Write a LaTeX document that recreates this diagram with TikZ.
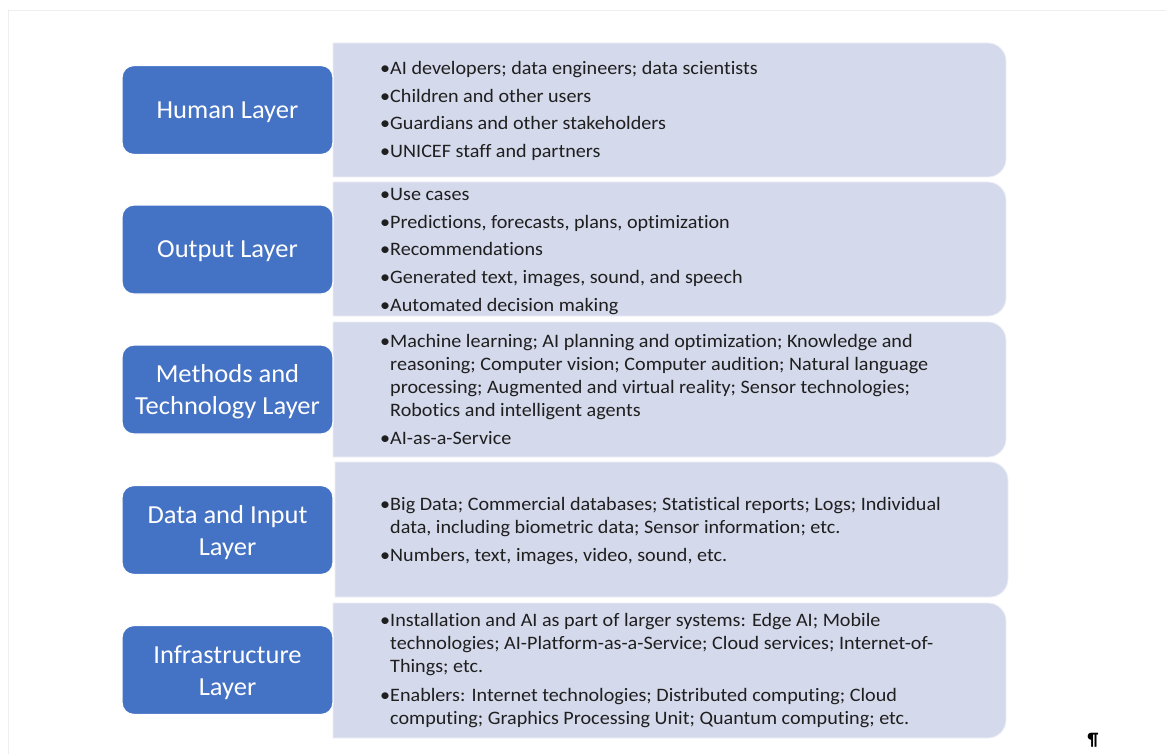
\documentclass[tikz,border=0pt]{standalone}
\usepackage{fontspec}
\setmainfont{Carlito}[Ligatures={NoCommon}]
\newfontfamily\listfont{Carlito}[FakeStretch=1.06,Ligatures={NoCommon}]
\newfontfamily\layerfont{Carlito}[FakeStretch=1.02,Ligatures={NoCommon}]
\definecolor{layerblue}{HTML}{4472C4}
\definecolor{lightbox}{HTML}{D4D9EB}
\definecolor{framegrey}{HTML}{EEEEEE}
\newcommand\bul{•}
\newcommand\cnt{\phantom{•}}
\begin{document}
\begin{tikzpicture}[x=1pt,y=-1pt,
  layer/.style={rounded corners=12pt, fill=layerblue, draw=white, line width=1.2pt,
    minimum width=211pt, minimum height=89pt, inner sep=0pt},
  layertext/.style={text=white, font=\layerfont\fontsize{26}{32}\selectfont, align=center, inner sep=0pt},
  listtext/.style={anchor=west, align=left, font=\listfont\fontsize{19}{23}\selectfont, inner sep=0pt, text=black!88},
  panel/.style={fill=lightbox, draw=white!60!lightbox, line width=0.8pt}]
\useasboundingbox (0,0) rectangle (1166,754);
\fill[white] (0,0) rectangle (1166,754);
\draw[framegrey, line width=1pt] (8,754) -- (8,11) -- (1166,11);

% panels
\foreach \t/\b/\l/\r in {43/177/333/1006, 182/316/333/1006, 322/457/333/1006, 462/597/335/1008, 603/738/333/1006}{
  \path[panel] (\l,\t) [rounded corners=18pt] -- (\r,\t) -- (\r,\b) [sharp corners] -- (\l,\b) -- cycle;
}

% layer boxes
\node[layer] (human) at (227.5,110) {};
\node[layer] (output) at (227.5,249.5) {};
\node[layer] (methods) at (227.5,389.5) {};
\node[layer] (data) at (227.5,530) {};
\node[layer] (infra) at (227.5,670) {};
\node[layertext] (humanlabel) at ([yshift=-2pt]human.center) {Human Layer};
\node[layertext] (outputlabel) at ([yshift=-2pt]output.center) {Output Layer};
\node[layertext] (methodslabel) at ([yshift=-2.5pt]methods.center) {Methods and\\Technology Layer};
\node[layertext] (datalabel) at ([yshift=-2.5pt]data.center) {Data and Input\\Layer};
\node[layertext] (infralabel) at ([yshift=-2.5pt]infra.center) {Infrastructure\\Layer};

% texts
\node[listtext] (humantext) at (380,111) {\bul AI developers; data engineers; data scientists\\[4.5pt]
\bul Children and other users\\[4.5pt]
\bul Guardians and other stakeholders\\[4.5pt]
\bul UNICEF staff and partners};

\node[listtext] (outputtext) at (380,251.5) {\bul Use cases\\[4.8pt]
\bul Predictions, forecasts, plans, optimization\\[4.8pt]
\bul Recommendations\\[4.8pt]
\bul Generated text, images, sound, and speech\\[4.8pt]
\bul Automated decision making};

\node[listtext] (methodstext) at (380,389) {\bul Machine learning; AI planning and optimization; Knowledge and\\
\cnt reasoning; Computer vision; Computer audition; Natural language\\
\cnt processing; Augmented and virtual reality; Sensor technologies;\\
\cnt Robotics and intelligent agents\\[5pt]
\bul AI-as-a-Service};

\node[listtext] (datatext) at (380,531) {\bul Big Data; Commercial databases; Statistical reports; Logs; Individual\\
\cnt data, including biometric data; Sensor information; etc.\\[5pt]
\bul Numbers, text, images, video, sound, etc.};

\node[listtext] (infratext) at (380,670.5) {\bul Installation and AI as part of larger systems: Edge AI; Mobile\\
\cnt technologies; AI-Platform-as-a-Service; Cloud services; Internet-of-\\
\cnt Things; etc.\\[6.5pt]
\bul Enablers: Internet technologies; Distributed computing; Cloud\\
\cnt computing; Graphics Processing Unit; Quantum computing; etc.};

\node[font=\bfseries\fontsize{18}{20}\selectfont, inner sep=0pt] (pilcrow) at (1093,740) {¶};
\end{tikzpicture}
\end{document}
